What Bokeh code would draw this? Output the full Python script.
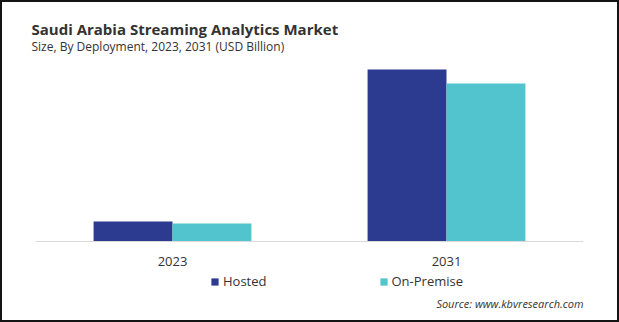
from bokeh.plotting import figure
from bokeh.models import ColumnDataSource, FactorRange, Range1d, Legend, LegendItem, Title, Label
from bokeh.transform import dodge
from bokeh.embed import file_html
from bokeh.resources import INLINE

years = ["2023", "2031"]
hosted = [0.20, 1.72]
on_premise = [0.18, 1.58]
series_names = ["Hosted", "On-Premise"]
colors = ["#2c3a8f", "#52c4cd"]

title_text = "Saudi Arabia Streaming Analytics Market"
subtitle_text = "Size, By Deployment,  2023, 2031 (USD Billion)"
source_text = "Source: www.kbvresearch.com"

src = ColumnDataSource(dict(years=years, hosted=hosted, on_premise=on_premise))

p = figure(width=619, height=322, x_range=FactorRange(*years, range_padding=0),
           y_range=Range1d(-0.81, 1.87), output_backend="svg", toolbar_location=None,
           min_border_left=35, min_border_right=36, min_border_top=54, min_border_bottom=0)
p.outline_line_color = None
p.grid.visible = False
p.yaxis.visible = False
p.border_fill_color = None
p.background_fill_color = None
p.styles = {"background-color": "white", "box-shadow": "inset 0 0 0 2px #141414"}

r1 = p.vbar(x=dodge("years", -0.144, range=p.x_range), top="hosted", width=0.288,
            source=src, color=colors[0], line_color=None)
r2 = p.vbar(x=dodge("years", 0.144, range=p.x_range), top="on_premise", width=0.288,
            source=src, color=colors[1], line_color=None)

ax = p.xaxis[0]
ax.fixed_location = 0
ax.axis_line_color = "#d9d9d9"
ax.axis_line_width = 1
ax.major_tick_line_color = None
ax.minor_tick_line_color = None
ax.major_label_text_font = "Open Sans"
ax.major_label_text_font_size = "13px"
ax.major_label_text_color = "#333333"
ax.major_label_standoff = 9

# titles
p.title.text = title_text
p.title.text_font = "Open Sans"
p.title.text_font_size = "15px"
p.title.text_font_style = "bold"
p.title.text_color = "#333333"
p.title.offset = -4
p.title.standoff = -6
p.add_layout(Title(text=subtitle_text, text_font="Open Sans", text_font_size="12px",
                   text_font_style="normal", text_color="#333333", offset=-4, standoff=0), "above")

legend = Legend(items=[LegendItem(label=series_names[0], renderers=[r1]),
                       LegendItem(label=series_names[1], renderers=[r2])],
                orientation="horizontal", location=(175, 32), spacing=112,
                glyph_width=9, glyph_height=9, label_standoff=4,
                label_text_font="Open Sans", label_text_font_size="13px",
                label_text_color="#333333", border_line_color=None,
                background_fill_alpha=0, padding=0, margin=0)
p.add_layout(legend, "center")

p.add_layout(Label(x=548, y=19, x_units="screen", y_units="screen", text=source_text,
                   text_font="Open Sans", text_font_size="11px", text_font_style="italic",
                   text_color="#333333", text_baseline="middle", text_align="right"))

open("out.html", "w").write(file_html(p, INLINE))
